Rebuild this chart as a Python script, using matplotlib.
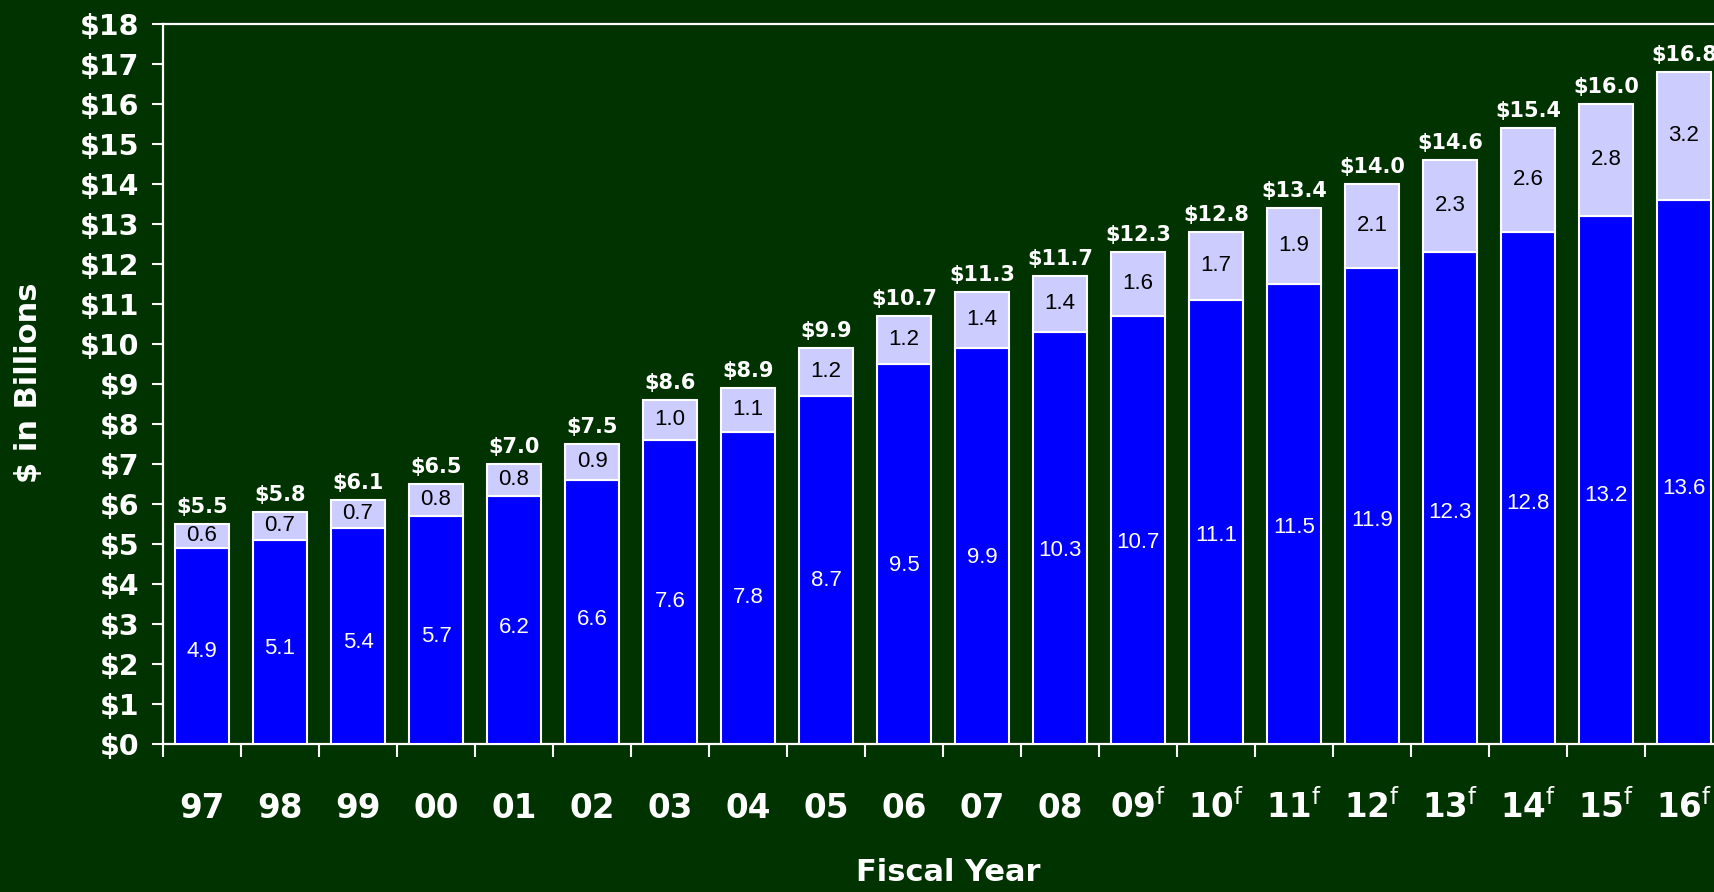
import matplotlib
matplotlib.use('Agg')
import matplotlib.pyplot as plt
import numpy as np

# ---- data ----
years = ['97', '98', '99', '00', '01', '02', '03', '04', '05', '06',
         '07', '08', '09', '10', '11', '12', '13', '14', '15', '16']
forecast = [False] * 12 + [True] * 8
base_vals = [4.9, 5.1, 5.4, 5.7, 6.2, 6.6, 7.6, 7.8, 8.7, 9.5,
             9.9, 10.3, 10.7, 11.1, 11.5, 11.9, 12.3, 12.8, 13.2, 13.6]
top_vals = [0.6, 0.7, 0.7, 0.8, 0.8, 0.9, 1.0, 1.1, 1.2, 1.2,
            1.4, 1.4, 1.6, 1.7, 1.9, 2.1, 2.3, 2.6, 2.8, 3.2]
totals = [5.5, 5.8, 6.1, 6.5, 7.0, 7.5, 8.6, 8.9, 9.9, 10.7,
          11.3, 11.7, 12.3, 12.8, 13.4, 14.0, 14.6, 15.4, 16.0, 16.8]
y_ticks = list(range(0, 19))

# ---- style ----
BG = '#003300'
BLUE = '#0000FF'
LIGHT = '#CCCCFF'
W = 1715
H = 892

plt.rcParams['font.family'] = ['DejaVu Sans']
plt.rcParams['mathtext.fontset'] = 'dejavusans'

fig = plt.figure(figsize=(W / 100, H / 100), dpi=100, facecolor=BG)
ax = fig.add_axes([163 / W, (H - 744) / H, 1560 / W, 720.4 / H])
ax.set_facecolor(BG)

x = np.arange(len(years))
bw = 0.69
ax.bar(x, base_vals, width=bw, color=BLUE, edgecolor='white', linewidth=1.5, zorder=3)
ax.bar(x, top_vals, bottom=base_vals, width=bw, color=LIGHT, edgecolor='white',
       linewidth=1.5, zorder=3)

inner_font = ['Liberation Sans', 'DejaVu Sans']
for xi, b, t, tot in zip(x, base_vals, top_vals, totals):
    ax.text(xi, b * 0.47, f'{b:.1f}', ha='center', va='center', color='white',
            fontsize=16, family=inner_font, zorder=4)
    ax.text(xi, b + t / 2, f'{t:.1f}', ha='center', va='center', color='black',
            fontsize=16, family=inner_font, zorder=4)
    ax.annotate(f'${tot:.1f}', (xi, tot), xytext=(0, 8), textcoords='offset points',
                ha='center', va='baseline', color='white', fontsize=15,
                fontweight='bold', zorder=4)

ax.set_xlim(-0.5, len(years) - 0.5)
ax.set_ylim(0, 18)

# y axis
ax.set_yticks(y_ticks)
ax.set_yticklabels([f'${v}' for v in y_ticks])
ax.tick_params(axis='y', which='major', direction='out', length=8, width=1.5,
               color='white', labelcolor='white', labelsize=20.5, pad=9)
for lab in ax.get_yticklabels():
    lab.set_fontweight('bold')

# x axis: boundary ticks, category labels as minor ticks
ax.set_xticks(np.arange(-0.5, len(years) - 1, 1.0))
ax.set_xticklabels([])
xlabels = [f'{y}' + (r'$^{\mathrm{f}}$' if f else '') for y, f in zip(years, forecast)]
ax.set_xticks(x, minor=True)
ax.set_xticklabels(xlabels, minor=True)
ax.tick_params(axis='x', which='major', direction='out', length=9, width=1.5, color='white')
ax.tick_params(axis='x', which='minor', length=0, labelcolor='white', labelsize=23.5, pad=53)
for lab in ax.get_xticklabels(minor=True):
    lab.set_fontweight('bold')
    lab.set_verticalalignment('baseline')

for side in ['left', 'bottom', 'top', 'right']:
    ax.spines[side].set_color('white')
    ax.spines[side].set_linewidth(1.6)

fig.text(29 / W, 1 - 383 / H, '$ in Billions', rotation=90, ha='center', va='center',
         color='white', fontsize=22, fontweight='bold')
fig.text(948 / W, (H - 881) / H, 'Fiscal Year', ha='center', va='baseline',
         color='white', fontsize=22, fontweight='bold')

fig.savefig('out.png', dpi=100, facecolor=BG)
